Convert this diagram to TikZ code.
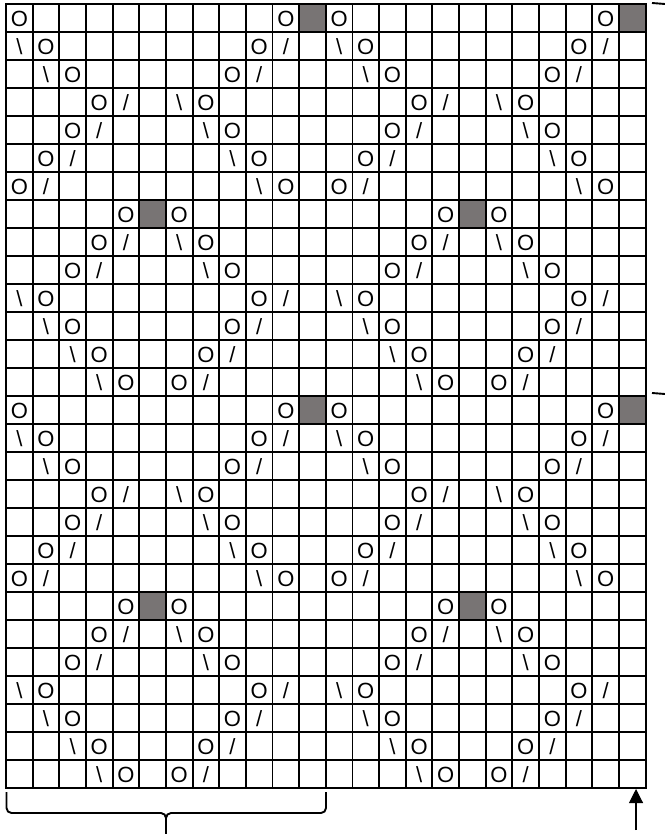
\documentclass[tikz,border=0pt]{standalone}
\usepackage{fontspec}
\setmainfont{Liberation Sans}
\usetikzlibrary{arrows.meta}
\definecolor{cellgray}{RGB}{120,116,116}
\begin{document}
\begin{tikzpicture}[x=1pt,y=-1pt,
  sym/.style={inner sep=0pt,font=\fontsize{22}{24}\selectfont},
  gridline/.style={line width=1.9pt,line cap=rect},
  braceline/.style={line width=1.9pt,line join=round},
  arrowline/.style={line width=1.1pt,-{Triangle[length=14pt,width=14pt]}}]
\useasboundingbox (0,0) rectangle (664,834);
\def\cw{26.65}
\def\ch{28}
% gray cells
\foreach \rr in {0,14} {
  \foreach \cc in {0,12} {
    \foreach \r/\c in {0/11,7/5} {
      \fill[cellgray] ({6+(\c+\cc)*\cw},{4+(\r+\rr)*\ch}) rectangle ++(\cw,\ch);
    }
  }
}
% grid
\foreach \i in {0,...,24} {
  \draw[gridline] ({6+\i*\cw},4) -- ({6+\i*\cw},788);
}
\foreach \j in {0,...,28} {
  \draw[gridline] (6,{4+\j*\ch}) -- (645.6,{4+\j*\ch});
}
% symbols
\foreach \rr in {0,14} {
  \foreach \cc in {0,12} {
    \foreach \r/\c in {0/0,0/10,1/1,1/9,2/2,2/8,3/3,3/7,4/2,4/8,5/1,5/9,6/0,6/10,7/4,7/6,8/3,8/7,9/2,9/8,10/1,10/9,11/2,11/8,12/3,12/7,13/4,13/6} {
      \pgfmathtruncatemacro{\R}{\r+\rr}
      \pgfmathtruncatemacro{\C}{\c+\cc}
      \node[sym] (o-\R-\C) at ({6+(\C+0.5)*\cw},{4+(\R+0.5)*\ch+0.8}) {O};
    }
    \foreach \r/\c in {1/10,2/9,3/4,4/3,5/2,6/1,8/4,9/3,10/10,11/9,12/8,13/7} {
      \pgfmathtruncatemacro{\R}{\r+\rr}
      \pgfmathtruncatemacro{\C}{\c+\cc}
      \node[sym] (s-\R-\C) at ({6+(\C+0.5)*\cw},{4+(\R+0.5)*\ch+0.8}) {/};
    }
    \foreach \r/\c in {1/0,2/1,3/6,4/7,5/8,6/9,8/6,9/7,10/0,11/1,12/2,13/3} {
      \pgfmathtruncatemacro{\R}{\r+\rr}
      \pgfmathtruncatemacro{\C}{\c+\cc}
      \node[sym] (b-\R-\C) at ({6+(\C+0.5)*\cw},{4+(\R+0.5)*\ch+0.8}) {\textbackslash};
    }
  }
}
% bottom brace
\draw[braceline,rounded corners=5pt] (6.5,792) -- (6.5,813) -- (166,813) -- (166,836);
\draw[braceline,rounded corners=5pt] (326,792) -- (326,813) -- (166,813) -- (166,836);
% right brace ends (clipped)
\draw[braceline] (652,3) -- (665,4);
\draw[braceline] (652,393) -- (665,394);
% arrow
\coordinate (arrowtail) at (636,830);
\coordinate (arrowtip) at (636,789);
\draw[arrowline] (arrowtail) -- (arrowtip);
\end{tikzpicture}
\end{document}
